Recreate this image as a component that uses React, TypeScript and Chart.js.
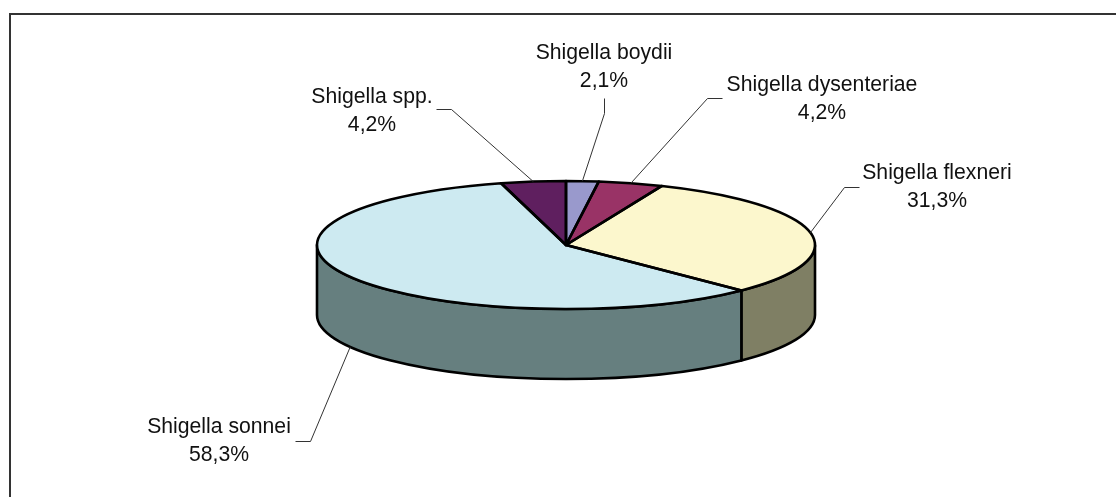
import React, { useEffect, useRef } from "react";
import { Chart, registerables } from "chart.js";

Chart.register(...registerables);

const categories = [
  "Shigella boydii",
  "Shigella dysenteriae",
  "Shigella flexneri",
  "Shigella sonnei",
  "Shigella spp.",
];
const percentages = [2.1, 4.2, 31.3, 58.3, 4.2];
const topColors = ["#9999CC", "#993366", "#FCF7CD", "#CDEAF1", "#5F1F5F"];
const sideColors = ["#66667F", "#66203F", "#7F7F64", "#667F7F", "#300F30"];

const PIE_RADIUS = 249;
const TILT = 64 / 249;
const DEPTH = 70;
const FONT = '21.2px "Liberation Sans", Arial, sans-serif';

// label centre and line baselines, and the elbow of each leader line
const labelLayout = [
  { x: 604, y: 59, elbowA: [604, 98], elbowB: [604, 113] },
  { x: 822, y: 91, elbowA: [722, 98], elbowB: [707, 98] },
  { x: 937, y: 179, elbowA: [859, 187], elbowB: [844, 187] },
  { x: 219, y: 433, elbowA: [295, 441], elbowB: [310, 441] },
  { x: 372, y: 102.5, elbowA: [436, 109], elbowB: [451, 109] },
];

const tiltedPie = {
  id: "tiltedPie",
  beforeDraw(chart: any) {
    const { ctx } = chart;
    ctx.save();
    ctx.fillStyle = "#ffffff";
    ctx.fillRect(0, 0, chart.width, chart.height);
    ctx.strokeStyle = "#333333";
    ctx.lineWidth = 2;
    ctx.beginPath();
    ctx.moveTo(1116, 14);
    ctx.lineTo(10, 14);
    ctx.lineTo(10, 497);
    ctx.stroke();
    ctx.restore();
  },
  beforeDatasetsDraw(chart: any) {
    const { ctx } = chart;
    const arcs = chart.getDatasetMeta(0).data;
    ctx.save();
    ctx.lineWidth = 2.6;
    ctx.lineJoin = "round";
    ctx.strokeStyle = "#000000";
    arcs.forEach((arc: any, i: number) => {
      const { x, y, startAngle, endAngle, outerRadius } = arc;
      const ry = outerRadius * TILT;
      for (let k = -1; k <= 1; k++) {
        const a = Math.max(startAngle, 2 * Math.PI * k);
        const b = Math.min(endAngle, Math.PI + 2 * Math.PI * k);
        if (b <= a) continue;
        ctx.beginPath();
        ctx.ellipse(x, y, outerRadius, ry, 0, a, b);
        ctx.ellipse(x, y + DEPTH, outerRadius, ry, 0, b, a, true);
        ctx.closePath();
        ctx.fillStyle = sideColors[i];
        ctx.fill();
        ctx.stroke();
      }
    });
    ctx.restore();
    const first = arcs[0];
    ctx.save();
    ctx.translate(first.x, first.y);
    ctx.scale(1, TILT);
    ctx.translate(-first.x, -first.y);
  },
  afterDatasetsDraw(chart: any) {
    const { ctx } = chart;
    ctx.restore();
    const arcs = chart.getDatasetMeta(0).data;
    ctx.save();
    ctx.strokeStyle = "#000000";
    ctx.lineWidth = 2.6;
    ctx.lineJoin = "round";
    arcs.forEach((arc: any) => {
      const { x, y, startAngle, endAngle, outerRadius } = arc;
      ctx.beginPath();
      ctx.moveTo(x, y);
      ctx.ellipse(x, y, outerRadius, outerRadius * TILT, 0, startAngle, endAngle);
      ctx.closePath();
      ctx.stroke();
    });
    ctx.lineWidth = 1;
    ctx.strokeStyle = "#333333";
    arcs.forEach((arc: any, i: number) => {
      const { x, y, startAngle, endAngle, outerRadius } = arc;
      const mid = (startAngle + endAngle) / 2;
      const px = x + outerRadius * Math.cos(mid);
      const py = y + outerRadius * TILT * Math.sin(mid) + (Math.sin(mid) > 0 ? DEPTH : 0);
      const l = labelLayout[i];
      ctx.beginPath();
      ctx.moveTo(l.elbowA[0] + 0.5, l.elbowA[1] + 0.5);
      ctx.lineTo(l.elbowB[0] + 0.5, l.elbowB[1] + 0.5);
      ctx.lineTo(px, py);
      ctx.stroke();
    });
    ctx.fillStyle = "#111111";
    ctx.font = FONT;
    ctx.textAlign = "center";
    ctx.textBaseline = "alphabetic";
    arcs.forEach((_: any, i: number) => {
      const l = labelLayout[i];
      ctx.fillText(categories[i], l.x, l.y);
      ctx.fillText(percentages[i].toFixed(1).replace(".", ",") + "%", l.x, l.y + 28);
    });
    ctx.restore();
  },
};

export default function App() {
  const ref = useRef<HTMLCanvasElement>(null);
  useEffect(() => {
    const chart = new Chart(ref.current as HTMLCanvasElement, {
      type: "pie",
      data: {
        labels: categories,
        datasets: [
          {
            data: percentages,
            backgroundColor: topColors,
            borderWidth: 0,
            clip: false,
          } as any,
        ],
      },
      options: {
        animation: false,
        responsive: false,
        radius: PIE_RADIUS,
        layout: { padding: { left: 16, bottom: 7 } },
        plugins: { legend: { display: false }, tooltip: { enabled: false } },
      } as any,
      plugins: [tiltedPie],
    });
    return () => chart.destroy();
  }, []);
  return (
    <canvas
      ref={ref}
      width={1116}
      height={497}
      style={{ position: "absolute", left: 0, top: 0, display: "block" }}
    />
  );
}
